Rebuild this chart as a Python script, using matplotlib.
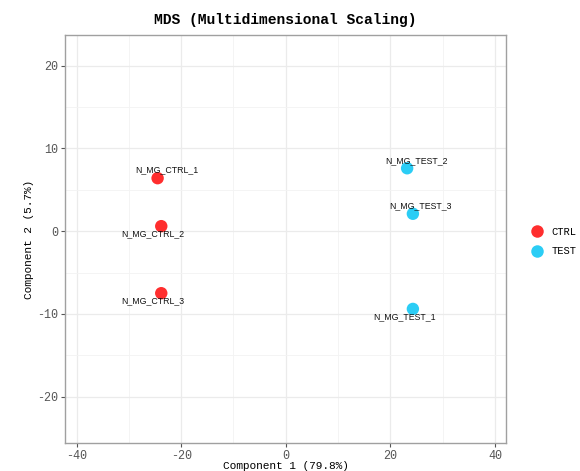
import matplotlib.pyplot as plt

plt.rcParams['axes.unicode_minus'] = False

# MDS coordinates per sample
samples = ['N_MG_CTRL_1', 'N_MG_CTRL_2', 'N_MG_CTRL_3',
           'N_MG_TEST_1', 'N_MG_TEST_2', 'N_MG_TEST_3']
groups = ['CTRL', 'CTRL', 'CTRL', 'TEST', 'TEST', 'TEST']
comp1 = [-24.5, -23.8, -23.8, 24.3, 23.2, 24.3]
comp2 = [6.4, 0.6, -7.5, -9.4, 7.6, 2.1]

group_colors = {'CTRL': '#FF2E2E', 'TEST': '#2BCDF5'}
# label offsets (pixels) so text does not sit on the points
label_offsets = {
    'N_MG_CTRL_1': (9, 8), 'N_MG_CTRL_2': (-8, -8), 'N_MG_CTRL_3': (-8, -7),
    'N_MG_TEST_1': (-8, -8), 'N_MG_TEST_2': (9, 8), 'N_MG_TEST_3': (8, 8),
}

mono = 'Liberation Mono'
sans = 'Liberation Sans'

fig = plt.figure(figsize=(5.8, 4.71), dpi=100)
ax = fig.add_axes([65 / 580, 28 / 471, 441 / 580, 408 / 471])

ax.set_xlim(-42.2, 42.1)
ax.set_ylim(-25.6, 23.7)
ax.set_xticks([-40, -20, 0, 20, 40])
ax.set_yticks([-20, -10, 0, 10, 20])
ax.set_xticks([-30, -10, 10, 30], minor=True)
ax.set_yticks([-15, -5, 5, 15], minor=True)
ax.grid(True, which='major', color='#EBEBEB', linewidth=0.9)
ax.grid(True, which='minor', color='#F3F3F3', linewidth=0.6)
ax.set_axisbelow(True)
for s in ax.spines.values():
    s.set_color('#A0A0A0')
    s.set_linewidth(1.0)
ax.tick_params(which='major', length=3, color='#555555', labelcolor='#555555',
               labelsize=8.5, pad=2)
ax.tick_params(which='minor', length=0)
for lbl in ax.get_xticklabels() + ax.get_yticklabels():
    lbl.set_family(mono)

for name, g, x, y in zip(samples, groups, comp1, comp2):
    ax.scatter(x, y, s=80, color=group_colors[g], edgecolors='none', zorder=3)
    dx, dy = label_offsets[name]
    ax.annotate(name, (x, y), xytext=(dx, dy), textcoords='offset pixels',
                ha='center', va='center', fontsize=6.3, family=sans,
                color='#111111', zorder=4)

ax.set_title('MDS (Multidimensional Scaling)', family=mono, fontweight='bold',
             fontsize=10.5, pad=8)
ax.set_xlabel('Component 1 (79.8%)', family=mono, fontsize=8, labelpad=-1)
ax.set_ylabel('Component 2 (5.7%)', family=mono, fontsize=8, labelpad=2)

handles = [plt.Line2D([], [], marker='o', linestyle='none', markersize=9,
                      markerfacecolor=group_colors[g], markeredgecolor='none',
                      label=g) for g in ['CTRL', 'TEST']]
leg = fig.legend(handles=handles, loc='center left', bbox_to_anchor=(0.892, 0.487),
                 frameon=False, prop={'family': mono, 'size': 7.5},
                 handletextpad=0.4, labelspacing=0.9)
for t in leg.get_texts():
    t.set_family(mono)

fig.savefig('out.png', dpi=100)
